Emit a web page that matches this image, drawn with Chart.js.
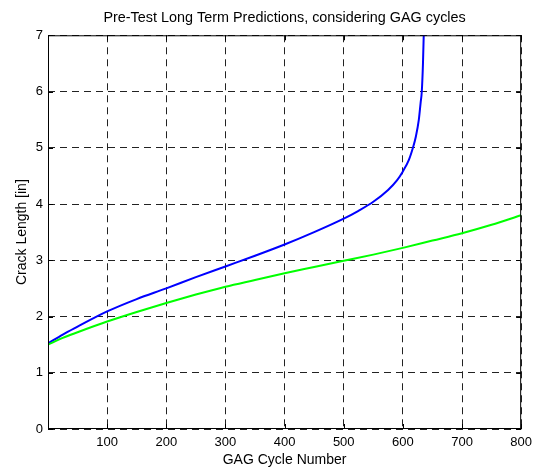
<!DOCTYPE html>
<html>
<head>
<meta charset="utf-8">
<script src="https://cdn.jsdelivr.net/npm/chart.js@4/dist/chart.umd.min.js"></script>
<style>
  html, body { margin: 0; padding: 0; background: #fff; }
  #wrap { width: 538px; height: 469px; }
</style>
</head>
<body>
<div id="wrap"><canvas id="myChart" width="538" height="469"></canvas></div>
<script>
const blueCycles = [0, 25, 50, 100, 150, 200, 250, 300, 350, 400, 450, 500, 525, 550, 575, 590, 600, 610, 617, 622, 627, 630, 632, 634, 636];
const blueCrack  = [1.52, 1.68, 1.82, 2.09, 2.31, 2.50, 2.70, 2.89, 3.08, 3.28, 3.50, 3.74, 3.88, 4.04, 4.25, 4.42, 4.58, 4.78, 5.0, 5.2, 5.5, 5.8, 6.0, 6.5, 7.3];

const greenCycles = [0, 25, 50, 100, 150, 200, 250, 300, 350, 400, 450, 500, 550, 600, 650, 700, 750, 800];
const greenCrack  = [1.50, 1.62, 1.72, 1.91, 2.08, 2.24, 2.39, 2.53, 2.65, 2.77, 2.88, 2.99, 3.10, 3.22, 3.35, 3.48, 3.63, 3.80];

const xTicks = [0, 100, 200, 300, 400, 500, 600, 700, 800];
const yTicks = [0, 1, 2, 3, 4, 5, 6, 7];

const toPoints = (xs, ys) => xs.map((x, i) => ({ x: x, y: ys[i] }));

// box round the axes, with small inward ticks like matlab
const boxPlugin = {
    id: 'box',
    afterLayout(chart) {
        // centre the title over the plot, not the whole canvas
        if (chart.titleBlock) {
            chart.titleBlock.left = chart.chartArea.left;
            chart.titleBlock.right = chart.chartArea.right;
        }
    },
    afterDraw(chart) {
        const ctx = chart.ctx;
        const a = chart.chartArea;
        const sx = chart.scales.x, sy = chart.scales.y;
        ctx.save();
        ctx.strokeStyle = '#000';
        ctx.lineWidth = 1;
        ctx.setLineDash([]);
        ctx.strokeRect(a.left + 0.5, a.top + 0.5, a.right - a.left - 1, a.bottom - a.top - 1);
        ctx.beginPath();
        xTicks.forEach(v => {
            const px = Math.round(sx.getPixelForValue(v)) + 0.5;
            ctx.moveTo(px, a.bottom); ctx.lineTo(px, a.bottom - 5);
            ctx.moveTo(px, a.top); ctx.lineTo(px, a.top + 5);
        });
        yTicks.forEach(v => {
            const py = Math.round(sy.getPixelForValue(v)) + 0.5;
            ctx.moveTo(a.left, py); ctx.lineTo(a.left + 5, py);
            ctx.moveTo(a.right, py); ctx.lineTo(a.right - 5, py);
        });
        ctx.stroke();
        ctx.restore();
    }
};

Chart.defaults.font.family = '"Liberation Sans", Arial, sans-serif';
Chart.defaults.font.size = 13;
Chart.defaults.color = '#000';

const myChart = new Chart(document.getElementById('myChart'), {
    type: 'line',
    data: {
        datasets: [{
            data: toPoints(greenCycles, greenCrack),
            borderColor: '#00ff00',
            borderWidth: 2,
            pointRadius: 0,
            cubicInterpolationMode: 'monotone',
            fill: false
        }, {
            data: toPoints(blueCycles, blueCrack),
            borderColor: '#0000ff',
            borderWidth: 2,
            pointRadius: 0,
            cubicInterpolationMode: 'monotone',
            fill: false
        }]
    },
    options: {
        responsive: false,
        animation: false,
        events: [],
        layout: {
            padding: { left: 0, right: 15, top: 0, bottom: 0 }
        },
        plugins: {
            legend: false,
            tooltip: { enabled: false },
            title: {
                display: true,
                text: 'Pre-Test Long Term Predictions, considering GAG cycles',
                font: { size: 14.4, weight: 'normal', lineHeight: 1.2 },
                padding: { top: 9, bottom: 9 }
            }
        },
        scales: {
            x: {
                type: 'linear',
                min: 0,
                max: 800,
                afterBuildTicks: (scale) => { scale.ticks = xTicks.map(v => ({ value: v })); },
                afterFit: (scale) => { scale.height = 40; },
                ticks: {
                    padding: 6,
                    maxRotation: 0,
                    callback: (v) => v === 0 ? '' : v
                },
                grid: {
                    color: '#222',
                    drawTicks: false
                },
                border: { display: false, dash: [7, 5] },
                title: {
                    display: true,
                    text: 'GAG Cycle Number',
                    font: { size: 14 },
                    padding: { top: 0, bottom: 0 }
                }
            },
            y: {
                type: 'linear',
                min: 0,
                max: 7,
                afterBuildTicks: (scale) => { scale.ticks = yTicks.map(v => ({ value: v })); },
                afterFit: (scale) => { scale.width = 48; },
                ticks: {
                    padding: 5
                },
                grid: {
                    color: '#222',
                    drawTicks: false
                },
                border: { display: false, dash: [7, 5] },
                title: {
                    display: true,
                    text: 'Crack Length [in]',
                    font: { size: 14 },
                    padding: { top: 14, bottom: 0 }
                }
            }
        }
    },
    plugins: [boxPlugin]
});
</script>
</body>
</html>
